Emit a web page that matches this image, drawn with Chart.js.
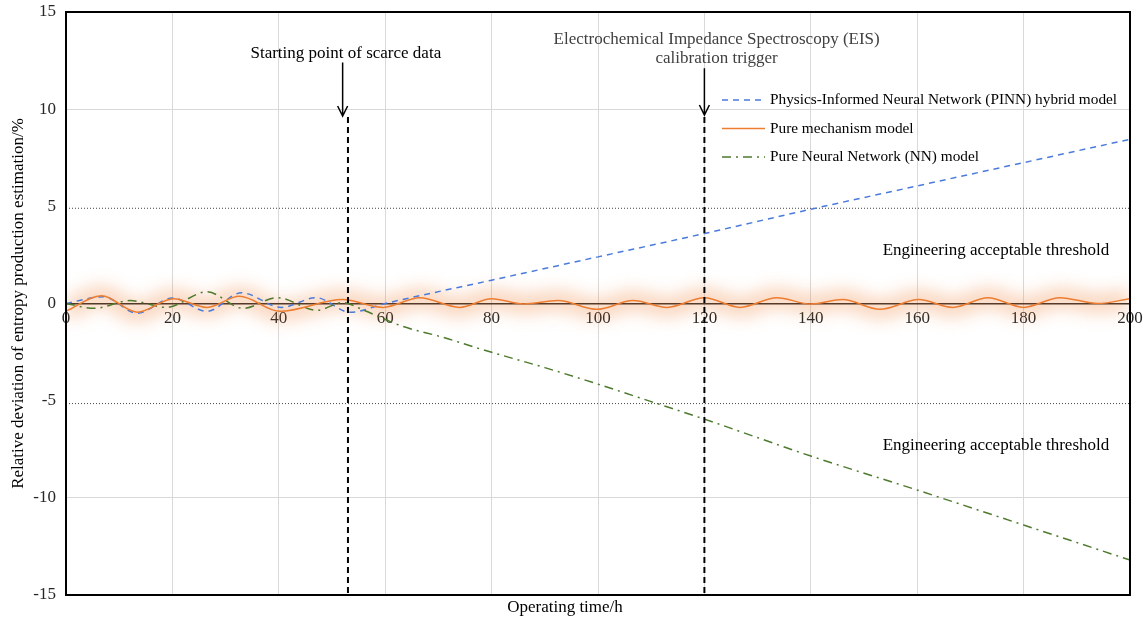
<!DOCTYPE html>
<html>
<head>
<meta charset="utf-8">
<title>Entropy production estimation deviation</title>
<script src="https://cdn.jsdelivr.net/npm/chart.js@4.4.0/dist/chart.umd.min.js"></script>
<style>
    html, body { margin: 0; padding: 0; background: #fff; }
    #wrap { width: 1144px; height: 618px; }
</style>
</head>
<body>
<div id="wrap"><canvas id="chart" width="1144" height="618"></canvas></div>
<script>
// --- Data ---
const mechHours  = [0, 6.7, 13.4, 20.2, 26.5, 32.6, 40.2, 52, 59.6, 66.5, 74, 80, 86, 92.5, 99.8, 106.6, 113, 120, 126.7, 133.6, 140, 146, 153, 160.3, 166.7, 173.3, 180, 186.8, 194, 200];
const mechValues = [-0.4, 0.4, -0.45, 0.25, -0.2, 0.37, -0.4, 0.2, -0.2, 0.3, -0.2, 0.25, -0.02, 0.15, -0.3, 0.15, -0.2, 0.3, -0.2, 0.3, -0.03, 0.2, -0.3, 0.2, -0.2, 0.3, -0.2, 0.3, 0, 0.25];

const pinnHours  = [0, 7, 13.4, 20, 26.5, 33, 40.5, 47, 53.4, 60, 80, 100, 120, 140, 160, 180, 200];
const pinnValues = [0, 0.35, -0.5, 0.28, -0.4, 0.55, -0.2, 0.3, -0.45, 0, 1.2, 2.4, 3.6, 4.85, 6.05, 7.25, 8.45];

const nnHours  = [0, 5.3, 12, 18.8, 26.5, 33.3, 39.7, 47.2, 52, 56, 63, 71, 78, 90, 100, 110, 120, 140, 160, 180, 200];
const nnValues = [0, -0.25, 0.15, -0.2, 0.6, -0.25, 0.3, -0.35, 0.05, -0.35, -1.15, -1.75, -2.35, -3.3, -4.15, -5.05, -5.95, -7.85, -9.6, -11.4, -13.2];

const thresholdHours = [0, 200];
const upperThreshold = [4.9, 4.9];
const lowerThreshold = [-5.15, -5.15];

const markerHours = [53, 120];
const markerTop = 9.6;

const xTickValues = [0, 20, 40, 60, 80, 100, 120, 140, 160, 180, 200];
const yTickValues = [-15, -10, -5, 0, 5, 10, 15];

const seriesLabels = [
    'Physics-Informed Neural Network (PINN) hybrid model',
    'Pure mechanism model',
    'Pure Neural Network (NN) model'
];

const SERIF = "'Liberation Serif', 'Times New Roman', serif";

function toPoints(xs, ys) {
    return xs.map((h, i) => ({ x: h, y: ys[i] }));
}

// --- Plugin: glow, annotations, legend, frame ---
const overlayPlugin = {
    id: 'overlay',
    beforeDatasetDraw(chart, args) {
        if (chart.data.datasets[args.index].isGlow) {
            chart.ctx.save();
            chart.ctx.filter = 'blur(9px)';
        }
    },
    afterDatasetDraw(chart, args) {
        if (chart.data.datasets[args.index].isGlow) chart.ctx.restore();
    },
    afterDraw(chart) {
        const { ctx, chartArea: a, scales: { x, y } } = chart;
        ctx.save();

        // vertical event markers
        ctx.strokeStyle = '#000';
        ctx.lineWidth = 2;
        ctx.setLineDash([6, 4]);
        markerHours.forEach(h => {
            const px = x.getPixelForValue(h);
            ctx.beginPath();
            ctx.moveTo(px, y.getPixelForValue(markerTop));
            ctx.lineTo(px, a.bottom);
            ctx.stroke();
        });
        ctx.setLineDash([]);

        // arrows
        ctx.lineWidth = 1.5;
        const arrows = [
            { h: 52, from: 12.4, to: 9.65 },
            { h: 120, from: 12.1, to: 9.7 }
        ];
        arrows.forEach(ar => {
            const px = x.getPixelForValue(ar.h);
            const y1 = y.getPixelForValue(ar.from);
            const y2 = y.getPixelForValue(ar.to);
            ctx.beginPath();
            ctx.moveTo(px, y1);
            ctx.lineTo(px, y2);
            ctx.moveTo(px - 5, y2 - 10);
            ctx.lineTo(px, y2);
            ctx.lineTo(px + 5, y2 - 10);
            ctx.stroke();
        });

        // annotation texts
        ctx.fillStyle = '#000';
        ctx.font = '17px ' + SERIF;
        ctx.textAlign = 'center';
        ctx.textBaseline = 'middle';
        ctx.fillText('Starting point of scarce data', x.getPixelForValue(52.6), y.getPixelForValue(12.85));
        ctx.fillStyle = '#404040';
        ctx.fillText('Electrochemical Impedance Spectroscopy (EIS)', x.getPixelForValue(122.3), y.getPixelForValue(13.6));
        ctx.fillText('calibration trigger', x.getPixelForValue(122.3), y.getPixelForValue(12.6));
        ctx.fillStyle = '#000';
        ctx.fillText('Engineering acceptable threshold', x.getPixelForValue(174.8), y.getPixelForValue(2.75));
        ctx.fillText('Engineering acceptable threshold', x.getPixelForValue(174.8), y.getPixelForValue(-7.33));

        // legend
        const legendSets = chart.data.datasets.filter(d => d.inLegend);
        const lx = a.left + 656;
        ctx.font = '15.3px ' + SERIF;
        ctx.textAlign = 'left';
        legendSets.forEach((d, i) => {
            const ly = a.top + 88 + i * 28.5;
            ctx.strokeStyle = d.borderColor;
            ctx.lineWidth = 1.5;
            ctx.setLineDash(d.borderDash || []);
            ctx.beginPath();
            ctx.moveTo(lx, ly);
            ctx.lineTo(lx + 43, ly);
            ctx.stroke();
            ctx.setLineDash([]);
            ctx.fillStyle = '#000';
            ctx.fillText(d.label, lx + 48, ly);
        });

        // plot frame
        ctx.strokeStyle = '#000';
        ctx.lineWidth = 2;
        ctx.strokeRect(a.left, a.top, a.right - a.left, a.bottom - a.top);
        ctx.restore();
    }
};

const ctx = document.getElementById('chart').getContext('2d');

new Chart(ctx, {
    type: 'line',
    data: {
        datasets: [
            {
                label: 'glow',
                isGlow: true,
                data: toPoints(mechHours, mechValues),
                borderColor: 'rgba(237, 125, 49, 0.36)',
                borderWidth: 18,
                cubicInterpolationMode: 'monotone',
                pointRadius: 0,
                order: 10
            },
            {
                label: 'upper threshold',
                data: toPoints(thresholdHours, upperThreshold),
                borderColor: '#404040',
                borderWidth: 1,
                borderDash: [1, 2],
                pointRadius: 0,
                order: 6
            },
            {
                label: 'lower threshold',
                data: toPoints(thresholdHours, lowerThreshold),
                borderColor: '#404040',
                borderWidth: 1,
                borderDash: [1, 2],
                pointRadius: 0,
                order: 6
            },
            {
                label: seriesLabels[0],
                inLegend: true,
                data: toPoints(pinnHours, pinnValues),
                borderColor: '#4A7BDB',
                borderWidth: 1.5,
                borderDash: [6, 5],
                cubicInterpolationMode: 'monotone',
                pointRadius: 0,
                order: 3
            },
            {
                label: seriesLabels[1],
                inLegend: true,
                data: toPoints(mechHours, mechValues),
                borderColor: '#ED7D31',
                borderWidth: 1.5,
                cubicInterpolationMode: 'monotone',
                pointRadius: 0,
                order: 1
            },
            {
                label: seriesLabels[2],
                inLegend: true,
                data: toPoints(nnHours, nnValues),
                borderColor: '#4E7A2E',
                borderWidth: 1.5,
                borderDash: [9, 5, 2, 5],
                cubicInterpolationMode: 'monotone',
                pointRadius: 0,
                order: 2
            }
        ]
    },
    options: {
        responsive: false,
        animation: false,
        layout: { padding: { left: 0, right: 14, top: 0, bottom: 0 } },
        plugins: {
            legend: { display: false },
            tooltip: { enabled: false },
            title: {
                display: true,
                position: 'bottom',
                text: 'Operating time/h',
                color: '#000',
                font: { family: SERIF, size: 17, weight: 'normal' },
                padding: { top: 2, bottom: 0.6 }
            }
        },
        scales: {
            x: {
                type: 'linear',
                min: 0,
                max: 200,
                position: { y: 0 },
                afterBuildTicks: scale => { scale.ticks = xTickValues.map(v => ({ value: v })); },
                afterFit: scale => {
                    scale.paddingLeft = 0;
                    scale.paddingRight = 0;
                },
                ticks: {
                    autoSkip: false,
                    maxRotation: 0,
                    padding: 5,
                    color: '#262626',
                    font: { family: SERIF, size: 17 }
                },
                grid: { color: '#d9d9d9', lineWidth: 1, drawTicks: false },
                border: { color: '#262626', width: 1.5 }
            },
            y: {
                type: 'linear',
                min: -15,
                max: 15,
                afterBuildTicks: scale => { scale.ticks = yTickValues.map(v => ({ value: v })); },
                afterFit: scale => {
                    scale.width = 66;
                    scale.paddingTop = 12;
                    scale.paddingBottom = 0;
                },
                ticks: {
                    padding: 10,
                    color: '#262626',
                    font: { family: SERIF, size: 17 }
                },
                grid: {
                    color: c => (Math.abs(c.tick.value) === 5 || c.tick.value === 0) ? 'rgba(0,0,0,0)' : '#d9d9d9',
                    lineWidth: 1,
                    drawTicks: false
                },
                border: { display: false },
                title: {
                    display: true,
                    text: 'Relative deviation of entropy production estimation/%',
                    color: '#000',
                    font: { family: SERIF, size: 17 },
                    padding: { top: 8, bottom: 0 }
                }
            }
        }
    },
    plugins: [overlayPlugin]
});
</script>
</body>
</html>
